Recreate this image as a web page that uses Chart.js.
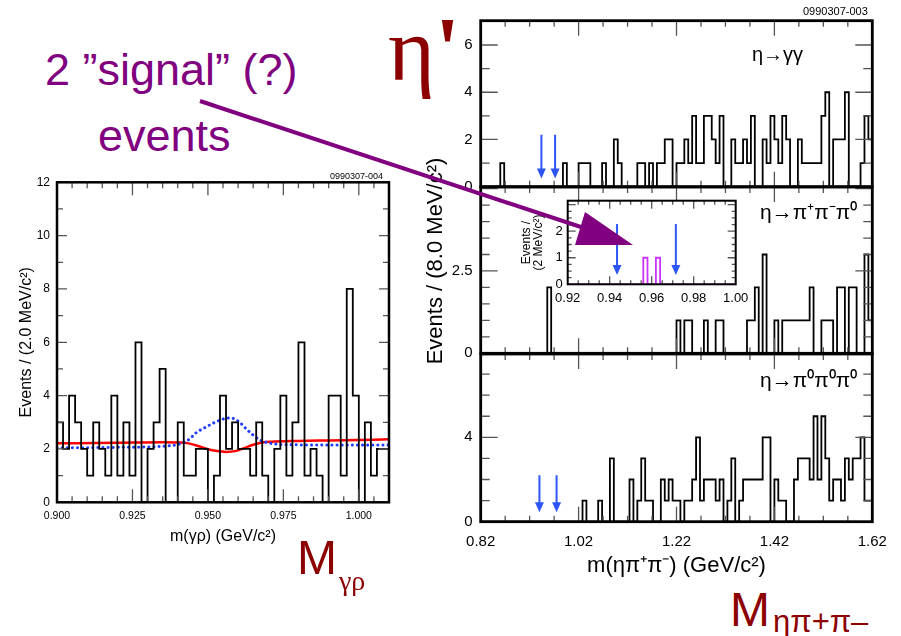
<!DOCTYPE html>
<html>
<head>
<meta charset="utf-8">
<script src="https://cdn.jsdelivr.net/npm/chart.js@4.4.1/dist/chart.umd.min.js"></script>
<style>
  body { margin: 0; width: 901px; height: 636px; background: #fff; position: relative; overflow: hidden; font-family: 'Liberation Sans', Arial, sans-serif; }
  canvas { position: absolute; }
  .t { position: absolute; white-space: nowrap; line-height: 1; }
  .serif { font-family: 'Liberation Serif', 'DejaVu Serif', serif; }
  .dred { color: #8c0000; }
  .purple { color: #800080; }
</style>
</head>
<body>
<canvas id="leftChart" width="400" height="383" style="left:0;top:167px"></canvas>
<canvas id="topChart" width="481" height="205" style="left:420px;top:0"></canvas>
<canvas id="midChart" width="481" height="203" style="left:420px;top:169px"></canvas>
<canvas id="botChart" width="481" height="244" style="left:420px;top:336px"></canvas>
<canvas id="insetChart" width="270" height="128" style="left:500px;top:187px"></canvas>

<div class="t purple" style="left:45px;top:47px;font-size:45px">2 ”signal” (?)</div>
<div class="t purple" style="left:98px;top:113px;font-size:45px">events</div>
<div class="t serif dred" style="left:388px;top:5px;font-size:90px">η<b>'</b></div>
<div class="t dred" style="left:297px;top:534px;font-size:48px">M</div>
<div class="t serif dred" style="left:339px;top:567px;font-size:28px">γρ</div>
<div class="t dred" style="left:730px;top:586px;font-size:48px">M</div>
<div class="t dred" style="left:773px;top:606px;font-size:31px">ηπ+π–</div>
<div class="t" style="left:803px;top:6px;font-size:11px">0990307-003</div>
<div class="t" style="left:330px;top:172px;font-size:9px">0990307-004</div>
<div class="t" style="left:752px;top:44px;font-size:20px">η→γγ</div>
<div class="t" style="left:760px;top:201px;font-size:21px">η→π⁺π⁻π⁰</div>
<div class="t" style="left:760px;top:369px;font-size:21px">η→π⁰π⁰π⁰</div>
<div class="t" style="left:435px;top:261px;font-size:22px;transform:translate(-50%,-50%) rotate(-90deg)">Events / (8.0 MeV/c²)</div>

<svg width="901" height="636" style="position:absolute;left:0;top:0;pointer-events:none">
  <line x1="200" y1="101" x2="590" y2="230" stroke="#800080" stroke-width="4"/>
  <polygon points="585,212 575,245 633,245" fill="#800080"/>
</svg>

<script>
// m(gamma rho): 2 MeV bins starting at 0.900 GeV
const gammaRhoStart = 0.900;
const gammaRhoBin = 0.002;
const gammaRhoCounts = [3, 2, 4, 3, 2, 1, 3, 2, 1, 4, 1, 3, 1, 6, 0, 2, 3, 5, 0, 0,
    3, 1, 1, 2, 2, 0, 1, 4, 2, 3, 2, 2, 1, 3, 1, 0, 2, 4, 1, 3,
    6, 1, 2, 1, 0, 4, 4, 1, 8, 4, 0, 3, 1, 2, 2];

// fit curves on the left plot
const fitMass = [0.900, 0.920, 0.935, 0.941, 0.944, 0.947, 0.950, 0.953, 0.956, 0.959, 0.962, 0.965, 0.968, 0.971, 0.980, 0.990, 1.000, 1.010];
const fitTotal = [2.21, 2.23, 2.25, 2.24, 2.20, 2.10, 1.99, 1.92, 1.89, 1.92, 2.03, 2.16, 2.24, 2.27, 2.30, 2.32, 2.34, 2.36];
const signalMass = [0.900, 0.920, 0.935, 0.941, 0.944, 0.946, 0.949, 0.952, 0.955, 0.957, 0.959, 0.961, 0.963, 0.965, 0.967, 0.970, 0.976, 0.990, 1.010];
const signalCurve = [2.04, 2.06, 2.10, 2.20, 2.38, 2.60, 2.80, 2.98, 3.12, 3.16, 3.12, 2.95, 2.72, 2.52, 2.35, 2.23, 2.16, 2.15, 2.15];

// m(eta pi+ pi-): 8 MeV bins starting at 0.82 GeV
const etaPiPiStart = 0.82;
const etaPiPiBin = 0.008;
const ggCounts = [0, 0, 0, 0, 0, 1, 0, 0, 0, 0, 0, 0, 0, 0, 0, 0, 0, 0, 0, 0,
    0, 1, 0, 0, 0, 1, 1, 1, 0, 0, 0, 1, 0, 0, 2, 1, 0, 0, 0, 0,
    1, 1, 0, 1, 0, 1, 1, 2, 2, 0, 1, 1, 2, 1, 3, 1, 1, 3, 3, 2,
    1, 3, 0, 0, 2, 1, 1, 2, 1, 3, 0, 0, 2, 1, 3, 2, 1, 3, 2, 0,
    0, 2, 1, 1, 1, 1, 1, 3, 4, 0, 2, 2, 2, 4, 0, 0, 0, 1, 3, 2];
const chargedCounts = [0, 0, 0, 0, 0, 0, 0, 0, 0, 0, 0, 0, 0, 0, 0, 0, 0, 2, 0, 0,
    0, 0, 0, 0, 0, 0, 0, 0, 0, 0, 0, 0, 0, 0, 0, 0, 0, 0, 0, 0,
    0, 0, 0, 0, 0, 0, 0, 0, 0, 0, 1, 0, 1, 1, 0, 0, 0, 1, 0, 0,
    1, 1, 0, 0, 0, 0, 0, 0, 1, 1, 2, 0, 3, 0, 0, 1, 0, 1, 1, 1,
    1, 1, 1, 1, 2, 0, 0, 1, 1, 1, 0, 2, 2, 0, 2, 2, 0, 0, 3, 1];
const neutralCounts = [0, 0, 0, 0, 0, 0, 0, 0, 0, 0, 0, 0, 0, 0, 0, 0, 0, 0, 0, 0,
    0, 0, 0, 0, 0, 0, 1, 0, 0, 0, 1, 0, 0, 3, 0, 0, 0, 0, 2, 0,
    1, 3, 1, 1, 0, 0, 2, 1, 2, 1, 1, 0, 1, 1, 2, 4, 1, 2, 2, 2,
    1, 2, 0, 1, 3, 0, 1, 2, 2, 2, 2, 2, 4, 4, 0, 2, 1, 1, 0, 0,
    2, 3, 3, 3, 2, 5, 2, 5, 3, 1, 2, 2, 1, 3, 2, 3, 3, 4, 1, 1];

// inset: 2 MeV bins from 0.92 GeV (eta -> pi+ pi- pi0)
const insetStart = 0.92;
const insetBin = 0.002;
const insetCounts = [0, 0, 0, 0, 0, 0, 0, 0, 0, 0, 0, 0, 0, 0, 0, 0, 0, 0, 1, 0,
    0, 1, 0, 0, 0, 0, 0, 0, 0, 0, 0, 0, 0, 0, 0, 0, 0, 0, 0, 0];

// signal-window cuts (blue arrows)
const cutsTop = [0.944, 0.972];
const cutsBottom = [0.940, 0.975];
const cutsInset = [0.9435, 0.9715];

// tick labels
const leftXTicks = [0.900, 0.925, 0.950, 0.975, 1.000];
const leftYTicks = [0, 2, 4, 6, 8, 10, 12];
const rightXTicks = [0.82, 1.02, 1.22, 1.42, 1.62];
const topYTicks = [0, 2, 4, 6];
const midYTicks = [0, 2.5];
const botYTicks = [0, 4];
const insetXTicks = [0.92, 0.94, 0.96, 0.98, 1.00];
const insetYTicks = [0, 1, 2];

Chart.defaults.font.family = "'Liberation Sans', Arial, sans-serif";
Chart.defaults.color = '#000';

function histPoints(start, width, counts) {
    const pts = counts.map((c, i) => ({ x: start + i * width, y: c }));
    pts.push({ x: start + counts.length * width, y: counts[counts.length - 1] });
    return pts;
}

function tickMarks(min, max, origin, step, major) {
    const out = [];
    const first = Math.ceil((min - origin) / step - 1e-6);
    const last = Math.floor((max - origin) / step + 1e-6);
    for (let k = first; k <= last; k++) {
        const off = k * step;
        const r = off / major;
        out.push({ v: origin + off, major: Math.abs(r - Math.round(r)) < 1e-6 });
    }
    return out;
}

// frame box with inward ticks on all four sides
const framePlugin = {
    id: 'frame',
    beforeDatasetsDraw(chart, args, opts) {
        if (!opts.fill) return;
        const a = chart.chartArea;
        chart.ctx.save();
        chart.ctx.fillStyle = '#fff';
        chart.ctx.fillRect(a.left, a.top, a.width, a.height);
        chart.ctx.restore();
    },
    afterDatasetsDraw(chart, args, opts) {
        const { ctx, chartArea: a, scales: { x, y } } = chart;
        ctx.save();
        ctx.strokeStyle = '#555';
        ctx.lineWidth = 1.3;
        ctx.beginPath();
        tickMarks(x.min, x.max, opts.xOrigin, opts.xMinor, opts.xMajor).forEach((m) => {
            const px = x.getPixelForValue(m.v);
            if (px < a.left + 1 || px > a.right - 1) return;
            const len = m.major ? opts.xMajorLen : opts.xMinorLen;
            ctx.moveTo(px, a.bottom); ctx.lineTo(px, a.bottom - len);
            ctx.moveTo(px, a.top); ctx.lineTo(px, a.top + len);
        });
        tickMarks(y.min, y.max, 0, opts.yMinor, opts.yMajor).forEach((m) => {
            const py = y.getPixelForValue(m.v);
            if (py < a.top + 1 || py > a.bottom - 1) return;
            const len = m.major ? opts.yMajorLen : opts.yMinorLen;
            ctx.moveTo(a.left, py); ctx.lineTo(a.left + len, py);
            ctx.moveTo(a.right, py); ctx.lineTo(a.right - len, py);
        });
        ctx.stroke();
        ctx.strokeStyle = '#000';
        ctx.lineWidth = opts.frameWidth || 2.5;
        ctx.strokeRect(a.left, a.top, a.width, a.height);
        ctx.restore();
    }
};

const cutArrowPlugin = {
    id: 'cutArrows',
    afterDatasetsDraw(chart, args, opts) {
        if (!opts.values) return;
        const { ctx, scales: { x, y } } = chart;
        const y0 = y.getPixelForValue(opts.from);
        const y1 = y.getPixelForValue(opts.to);
        ctx.save();
        ctx.strokeStyle = ctx.fillStyle = '#2d55f5';
        ctx.lineWidth = 2;
        opts.values.forEach((v) => {
            const px = x.getPixelForValue(v);
            ctx.beginPath();
            ctx.moveTo(px, y0);
            ctx.lineTo(px, y1 - 8);
            ctx.stroke();
            ctx.beginPath();
            ctx.moveTo(px - 4.5, y1 - 10);
            ctx.lineTo(px + 4.5, y1 - 10);
            ctx.lineTo(px, y1);
            ctx.closePath();
            ctx.fill();
        });
        ctx.restore();
    }
};

function histDataset(points, color, width) {
    return {
        data: points,
        borderColor: color,
        borderWidth: width,
        stepped: true,
        pointRadius: 0,
        fill: false
    };
}

function fixedTicks(list) {
    return (scale) => { scale.ticks = list.map((v) => ({ value: v })); };
}

function baseOptions(padding, scales, plugins) {
    return {
        responsive: false,
        animation: false,
        events: [],
        layout: { padding },
        scales,
        plugins: Object.assign({ legend: { display: false }, tooltip: { enabled: false } }, plugins)
    };
}

// ---- left: m(gamma rho)
new Chart(document.getElementById('leftChart'), {
    type: 'line',
    data: {
        datasets: [
            histDataset(histPoints(gammaRhoStart, gammaRhoBin, gammaRhoCounts), '#000', 1.8),
            {
                data: signalMass.map((m, i) => ({ x: m, y: signalCurve[i] })),
                borderColor: '#1f3cff',
                borderWidth: 3,
                borderDash: [0.1, 5],
                borderCapStyle: 'round',
                cubicInterpolationMode: 'monotone',
                pointRadius: 0
            },
            {
                data: fitMass.map((m, i) => ({ x: m, y: fitTotal[i] })),
                borderColor: '#ff0000',
                borderWidth: 2.5,
                cubicInterpolationMode: 'monotone',
                pointRadius: 0
            }
        ]
    },
    options: baseOptions({ left: 0, right: 11, top: 15.3, bottom: 3.4 }, {
        x: {
            type: 'linear', min: 0.900, max: 1.010,
            grid: { display: false, drawTicks: false }, border: { display: false },
            afterBuildTicks: fixedTicks(leftXTicks),
            afterFit: (s) => { s.height = 44.3; },
            ticks: { font: { size: 10.5 }, padding: 8, maxRotation: 0, autoSkip: false, callback: (v) => Number(v).toFixed(3) },
            title: { display: true, text: 'm(γρ) (GeV/c²)', font: { size: 16 }, padding: 0 }
        },
        y: {
            min: 0, max: 12,
            grid: { display: false, drawTicks: false }, border: { display: false },
            afterBuildTicks: fixedTicks(leftYTicks),
            afterFit: (s) => { s.width = 57; },
            ticks: { font: { size: 12 }, padding: 7 },
            title: { display: true, text: 'Events / (2.0 MeV/c²)', font: { size: 16 }, padding: { top: 17.4, bottom: 0 } }
        }
    }, {
        frame: { xOrigin: 0.9, xMinor: 0.005, xMajor: 0.025, yMinor: 1, yMajor: 2, xMajorLen: 13, xMinorLen: 6, yMajorLen: 10, yMinorLen: 6, frameWidth: 2.5 }
    }),
    plugins: [framePlugin]
});

// ---- right panels: m(eta pi+ pi-)
function rightPanel(id, counts, yMax, yTicks, yMinor, yMajor, padding, showX, cuts) {
    const x = {
        type: 'linear', min: 0.82, max: 1.62,
        display: showX,
        grid: { display: false, drawTicks: false }, border: { display: false },
        afterBuildTicks: fixedTicks(rightXTicks),
        afterFit: (s) => { s.height = showX ? 57.5 : 0; },
        ticks: { font: { size: 15 }, padding: 11, maxRotation: 0, autoSkip: false, callback: (v) => Number(v).toFixed(2) },
        title: { display: true, text: 'm(ηπ⁺π⁻) (GeV/c²)', font: { size: 22 }, padding: 0 }
    };
    return new Chart(document.getElementById(id), {
        type: 'line',
        data: { datasets: [histDataset(histPoints(etaPiPiStart, etaPiPiBin, counts), '#000', 1.8)] },
        options: baseOptions(padding, {
            x,
            y: {
                min: 0, max: yMax,
                grid: { display: false, drawTicks: false }, border: { display: false },
                afterBuildTicks: fixedTicks(yTicks),
                afterFit: (s) => { s.width = 60.7; },
                ticks: { font: { size: 15 }, padding: 8, callback: (v) => String(v) }
            }
        }, {
            frame: { xOrigin: 0.82, xMinor: 0.05, xMajor: 0.2, yMinor, yMajor, xMajorLen: 15, xMinorLen: 6, yMajorLen: 17, yMinorLen: 9, frameWidth: 2.8 },
            cutArrows: cuts
        }),
        plugins: [framePlugin, cutArrowPlugin]
    });
}

rightPanel('topChart', ggCounts, 7.03, topYTicks, 1, 2, { left: 0, right: 28.7, top: 20.7, bottom: 18.3 }, false,
    { values: cutsTop, from: 2.2, to: 0.35 });
rightPanel('midChart', chargedCounts, 5.05, midYTicks, 0.5, 2.5, { left: 0, right: 28.7, top: 18, bottom: 18.7 }, false, {});
rightPanel('botChart', neutralCounts, 7.95, botYTicks, 1, 4, { left: 0, right: 28.7, top: 18, bottom: 0.8 }, true,
    { values: cutsBottom, from: 2.2, to: 0.45 });

// ---- inset
new Chart(document.getElementById('insetChart'), {
    type: 'line',
    data: { datasets: [histDataset(histPoints(insetStart, insetBin, insetCounts), '#cc33ff', 1.8)] },
    options: baseOptions({ left: 0, right: 34.3, top: 13.7, bottom: 5.7 }, {
        x: {
            type: 'linear', min: 0.92, max: 1.00,
            grid: { display: false, drawTicks: false }, border: { display: false },
            afterBuildTicks: fixedTicks(insetXTicks),
            afterFit: (s) => { s.height = 25; },
            ticks: { font: { size: 13 }, padding: 6, maxRotation: 0, autoSkip: false, callback: (v) => Number(v).toFixed(2) }
        },
        y: {
            min: 0, max: 3.15,
            grid: { display: false, drawTicks: false }, border: { display: false },
            afterBuildTicks: fixedTicks(insetYTicks),
            afterFit: (s) => { s.width = 67.7; },
            ticks: { font: { size: 13 }, padding: 5 },
            title: { display: true, text: ['Events /', '(2 MeV/c²)'], font: { size: 12, lineHeight: 1.0 }, padding: { top: 21, bottom: 0 } }
        }
    }, {
        frame: { fill: true, xOrigin: 0.92, xMinor: 0.005, xMajor: 0.02, yMinor: 0.25, yMajor: 1, xMajorLen: 8, xMinorLen: 4, yMajorLen: 8, yMinorLen: 4, frameWidth: 2 },
        cutArrows: { values: cutsInset, from: 2.27, to: 0.35 }
    }),
    plugins: [framePlugin, cutArrowPlugin]
});
</script>
</body>
</html>
